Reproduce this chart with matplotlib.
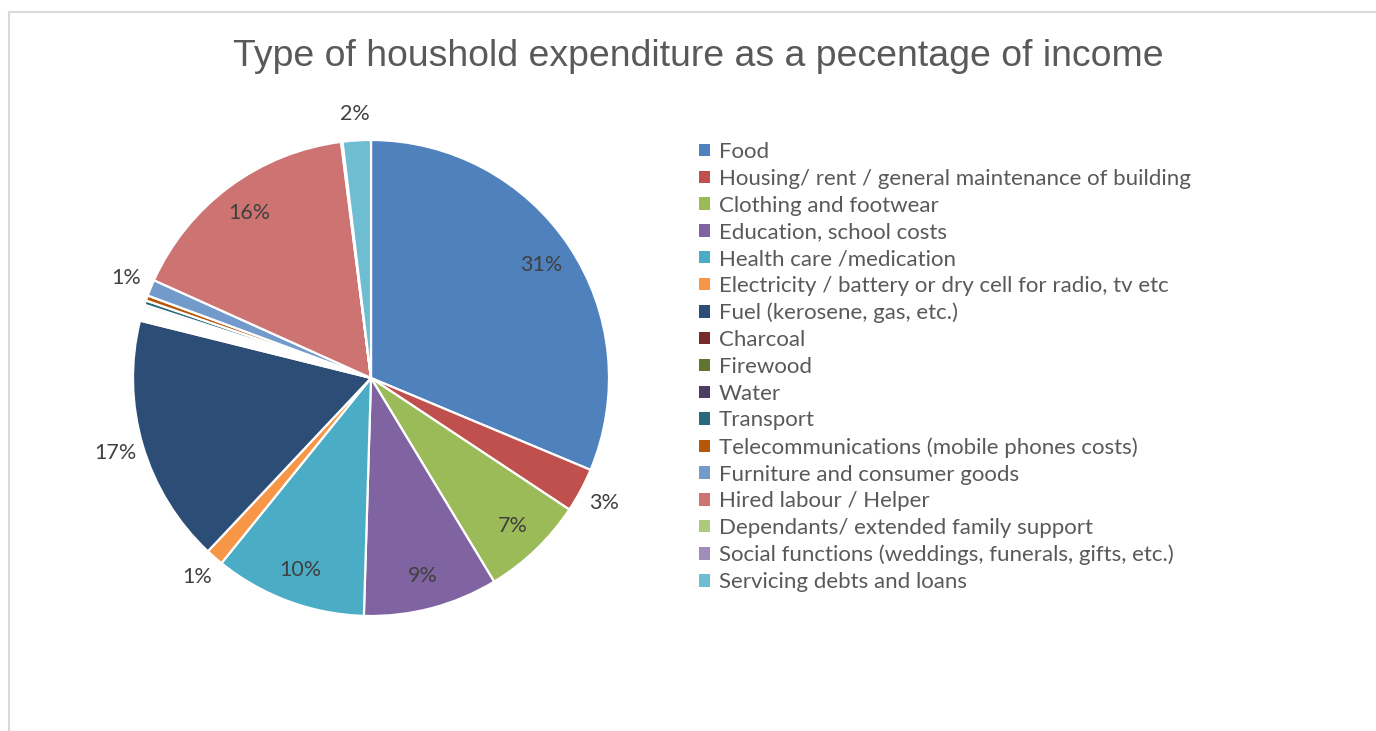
import numpy as np
import matplotlib
matplotlib.use("Agg")
import matplotlib.pyplot as plt
from matplotlib.patches import Patch, Rectangle

categories = [
    "Food",
    "Housing/ rent / general maintenance of building",
    "Clothing and footwear",
    "Education, school costs",
    "Health care /medication",
    "Electricity / battery or dry cell for radio, tv etc",
    "Fuel (kerosene, gas, etc.)",
    "Charcoal",
    "Firewood",
    "Water",
    "Transport",
    "Telecommunications (mobile phones costs)",
    "Furniture and consumer goods",
    "Hired labour / Helper",
    "Dependants/ extended family support",
    "Social functions (weddings, funerals, gifts, etc.)",
    "Servicing debts and loans",
]
shares = [31.2, 3.0, 7.0, 9.1, 10.3, 1.2, 16.8, 0.5, 0.4, 0.2, 0.3, 0.35, 1.1, 16.2, 0.05, 0.05, 1.9]
legend_colors = ["#4F81BD", "#C0504D", "#9BBB59", "#8064A2", "#4BACC6", "#F79646",
                 "#2C4D75", "#772C2A", "#5F7530", "#4D3B62", "#276A7C", "#B65708",
                 "#729ACA", "#CD7371", "#AFC97A", "#A18DB9", "#6FBDD1"]
# slices that show as blank in the picture
blank = ["Charcoal", "Firewood"]
pale = ["Water"]
pct_labels = {"Food": "31%", "Housing/ rent / general maintenance of building": "3%",
              "Clothing and footwear": "7%", "Education, school costs": "9%",
              "Health care /medication": "10%",
              "Electricity / battery or dry cell for radio, tv etc": "1%",
              "Fuel (kerosene, gas, etc.)": "17%", "Furniture and consumer goods": "1%",
              "Hired labour / Helper": "16%", "Servicing debts and loans": "2%"}
outside = ["Housing/ rent / general maintenance of building",
           "Electricity / battery or dry cell for radio, tv etc",
           "Fuel (kerosene, gas, etc.)", "Furniture and consumer goods",
           "Servicing debts and loans"]

W, H = 1376, 731
fig = plt.figure(figsize=(W / 100, H / 100), dpi=100)
fig.patch.set_facecolor("white")

# chart border
fig.patches.append(Rectangle((8.5 / W, -0.1), 1.2, 1 - 11.5 / H + 0.1, transform=fig.transFigure,
                             fill=False, edgecolor="#d9d9d9", linewidth=1.5))

cx, cy, r = 371, 378, 238
ax = fig.add_axes([(cx - r) / W, (H - cy - r) / H, 2 * r / W, 2 * r / H])
wedge_colors = []
for c, col in zip(categories, legend_colors):
    if c in blank:
        col = "white"
    elif c in pale:
        col = "#dfe6ee"
    wedge_colors.append(col)
wedges, _ = ax.pie(shares, colors=wedge_colors, startangle=90, counterclock=False,
                   wedgeprops=dict(edgecolor="white", linewidth=1.6))
ax.set_xlim(-1, 1)
ax.set_ylim(-1, 1)
ax.set_aspect("equal")
ax.axis("off")

for w, c in zip(wedges, categories):
    if c not in pct_labels:
        continue
    ang = np.deg2rad((w.theta1 + w.theta2) / 2)
    rr = 1.11 if c in outside else 0.86
    if c == "Fuel (kerosene, gas, etc.)":
        rr = 1.12
    ax.text(rr * np.cos(ang), rr * np.sin(ang), pct_labels[c], ha="center", va="center",
            fontsize=15.5, color="#404040", family="Lato")

fig.text(698 / W, 1 - 57 / H, "Type of houshold expenditure as a pecentage of income",
         ha="center", va="center", fontsize=26.9, color="#595959", family="Liberation Sans")

handles = [Patch(facecolor=col, edgecolor="none") for col in legend_colors]
leg = fig.legend(handles, categories, loc="upper left", bbox_to_anchor=(699 / W, 1 - 142 / H),
                 frameon=False, handlelength=0.48, handleheight=0.48, handletextpad=0.4,
                 labelspacing=0.305, borderpad=0, borderaxespad=0,
                 prop=dict(family="Lato", size=16))
for t in leg.get_texts():
    t.set_color("#595959")

fig.savefig("out.png", dpi=100, facecolor="white")
